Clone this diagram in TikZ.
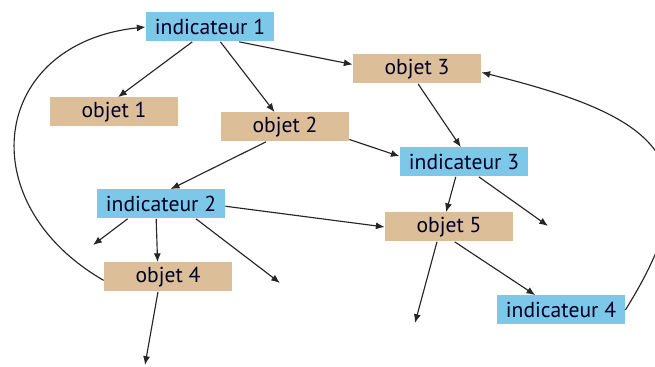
\documentclass[tikz,border=0pt]{standalone}
\usepackage{fontspec}
\setmainfont{PT Sans}
\usepackage{xcolor}
\usetikzlibrary{arrows.meta}

\definecolor{objtan}{RGB}{220,190,152}
\definecolor{indblue}{RGB}{125,200,232}

\begin{document}
\begin{tikzpicture}[
  box/.style={rectangle, minimum width=2.56cm, minimum height=0.58cm, inner sep=0pt,
              text=black!85!blue, font=\fontsize{12.3}{14}\selectfont},
  objet/.style={box, fill=objtan},
  indic/.style={box, fill=indblue},
  >={Latex[length=5pt, width=4pt]},
  link/.style={->, line width=0.65pt, black!85}
]
  \useasboundingbox (0, 0) rectangle (13.1, 7.34);

  % Indicators (blue) and objects (tan)
  \node[indic] (ind1) at (4.20, 6.80)  {indicateur 1};
  \node[objet] (obj1) at (2.28, 5.10)  {objet 1};
  \node[objet] (obj2) at (5.70, 4.80)  {objet 2};
  \node[objet] (obj3) at (8.34, 5.96)  {objet 3};
  \node[indic] (ind3) at (9.28, 4.10)  {indicateur 3};
  \node[indic] (ind2) at (3.22, 3.26)  {indicateur 2};
  \node[objet] (obj4) at (3.36, 1.80)  {objet 4};
  \node[objet] (obj5) at (8.98, 2.80)  {objet 5};
  \node[indic] (ind4) at (11.22, 1.14) {indicateur 4};

  % Loose ends
  \coordinate (end1) at (1.86, 2.44);
  \coordinate (end2) at (5.60, 1.68);
  \coordinate (end3) at (2.90, 0.04);
  \coordinate (end4) at (10.96, 2.82);
  \coordinate (end5) at (8.30, 0.88);

  % From indicateur 1
  \draw[link] (ind1.220) -- (obj1.75);
  \draw[link] (ind1.305) -- (obj2.125);
  \draw[link] (ind1.-27) -- (obj3.176);

  % From objet 2 and objet 3
  \draw[link] (obj2.-11) -- (ind3.175);
  \draw[link] (obj2.218) -- (ind2.57);
  \draw[link] (obj3.274) -- (ind3.102);

  % From indicateur 2
  \draw[link] (ind2.358) -- (obj5.west);
  \draw[link] (ind2.204) -- (end1);
  \draw[link] (ind2.252) -- (obj4.125);
  \draw[link] (ind2.337) -- (end2);

  % From indicateur 3, objet 4 and objet 5
  \draw[link] (obj4.236) -- (end3);
  \draw[link] (ind3.241) -- (obj5.101);
  \draw[link] (ind3.315) -- (end4);
  \draw[link] (obj5.231) -- (end5);
  \draw[link] (obj5.291) -- (ind4.150);

  % Feedback loops
  \draw[link] (ind4.east) to[out=58, in=-14, looseness=1.65] (obj3.-3);
  \draw[link] (obj4.183) to[out=150, in=186, looseness=1.55] (ind1.west);
\end{tikzpicture}
\end{document}
